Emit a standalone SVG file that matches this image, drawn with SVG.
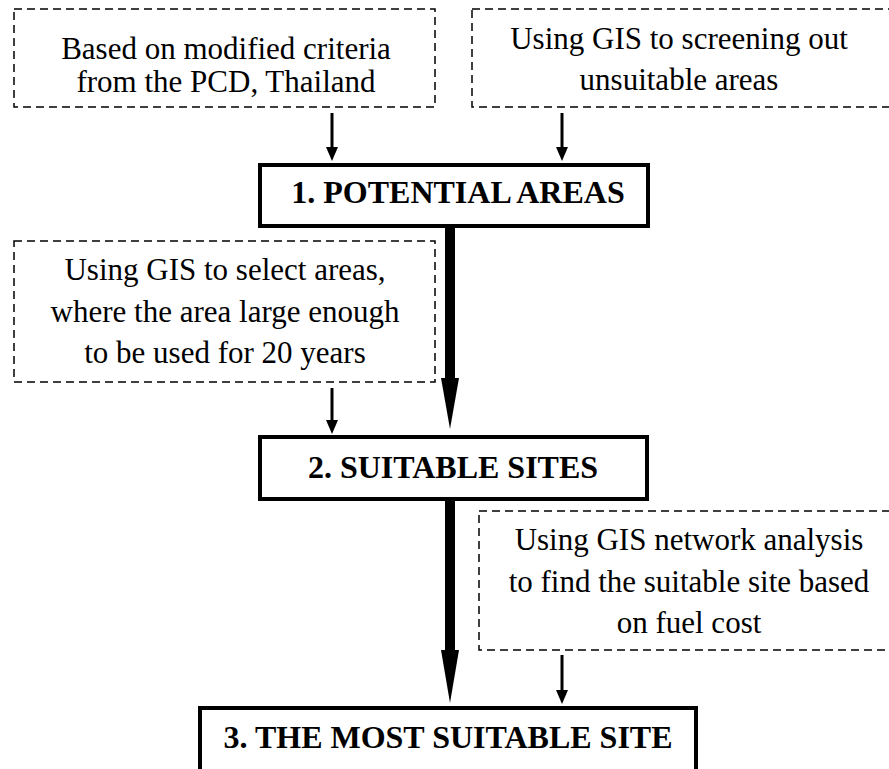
<svg xmlns="http://www.w3.org/2000/svg" width="889" height="769" viewBox="0 0 889 769">
  <style>
    .note { fill: none; stroke: #000; stroke-width: 1.5; stroke-dasharray: 8 5; }
    .stage { fill: #fff; stroke: #000; stroke-width: 4; }
    .thin { stroke: #000; stroke-width: 3; fill: none; }
    .thick { stroke: #000; stroke-width: 10; fill: none; }
    .head { fill: #000; stroke: none; }
  </style>
  <rect width="889" height="769" fill="#fff"/>

  <!-- input notes -->
  <g id="note-criteria" font-family="Liberation Serif, serif" font-size="31" text-anchor="middle" fill="#000">
    <rect class="note" x="14" y="9" width="421" height="98"/>
    <text font-family="Liberation Serif" x="226" y="59">Based on modified criteria</text>
    <text font-family="Liberation Serif" x="226" y="92">from the PCD, Thailand</text>
  </g>
  <g id="note-screening" font-family="Liberation Serif, serif" font-size="31" text-anchor="middle" fill="#000">
    <rect class="note" x="472" y="9" width="420" height="98"/>
    <text font-family="Liberation Serif" x="679" y="49">Using GIS to screening out</text>
    <text font-family="Liberation Serif" x="679" y="90">unsuitable areas</text>
  </g>
  <g id="note-select" font-family="Liberation Serif, serif" font-size="31" text-anchor="middle" fill="#000">
    <rect class="note" x="14" y="241" width="421" height="141"/>
    <text font-family="Liberation Serif" x="225" y="280">Using GIS to select areas,</text>
    <text font-family="Liberation Serif" x="225" y="322">where the area large enough</text>
    <text font-family="Liberation Serif" x="225" y="363">to be used for 20 years</text>
  </g>
  <g id="note-network" font-family="Liberation Serif, serif" font-size="31" text-anchor="middle" fill="#000">
    <rect class="note" x="479" y="511" width="413" height="139"/>
    <text font-family="Liberation Serif" x="689" y="550">Using GIS network analysis</text>
    <text font-family="Liberation Serif" x="689" y="592">to find the suitable site based</text>
    <text font-family="Liberation Serif" x="689" y="633">on fuel cost</text>
  </g>

  <!-- stages -->
  <g id="stage-potential" font-family="Liberation Serif, serif" font-size="32" font-weight="bold" text-anchor="middle" fill="#000">
    <rect class="stage" x="260" y="165" width="388" height="61"/>
    <text font-family="Liberation Serif" x="458" y="203">1. POTENTIAL AREAS</text>
  </g>
  <g id="stage-suitable" font-family="Liberation Serif, serif" font-size="32" font-weight="bold" text-anchor="middle" fill="#000">
    <rect class="stage" x="260" y="437" width="387" height="62"/>
    <text font-family="Liberation Serif" x="453" y="478">2. SUITABLE SITES</text>
  </g>
  <g id="stage-most" font-family="Liberation Serif, serif" font-size="32" font-weight="bold" text-anchor="middle" fill="#000">
    <rect class="stage" x="200" y="708" width="496" height="80"/>
    <text font-family="Liberation Serif" x="448" y="748">3. THE MOST SUITABLE SITE</text>
  </g>

  <!-- connectors -->
  <g id="connectors">
    <line class="thin" x1="332" y1="113" x2="332" y2="149"/>
    <polygon class="head" points="326,147 338,147 332,161"/>
    <line class="thin" x1="562" y1="113" x2="562" y2="149"/>
    <polygon class="head" points="556,147 568,147 562,161"/>
    <line class="thin" x1="332" y1="388" x2="332" y2="422"/>
    <polygon class="head" points="326,420 338,420 332,434"/>
    <line class="thin" x1="562" y1="655" x2="562" y2="692"/>
    <polygon class="head" points="556,690 568,690 562,704"/>

    <line class="thick" x1="450" y1="228" x2="450" y2="380"/>
    <polygon class="head" points="441,378 459,378 450,429"/>
    <line class="thick" x1="450" y1="501" x2="450" y2="652"/>
    <polygon class="head" points="441,650 459,650 450,703"/>
  </g>
</svg>
